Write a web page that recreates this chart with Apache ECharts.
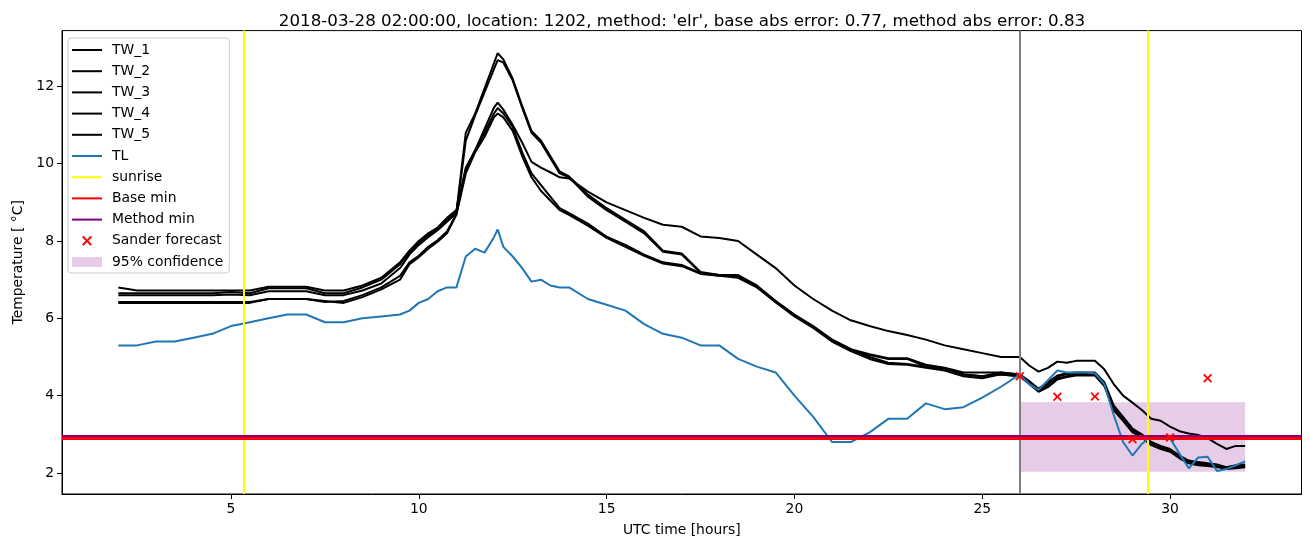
<!DOCTYPE html>
<html>
<head>
<meta charset="utf-8">
<script src="https://cdn.jsdelivr.net/npm/echarts@6/dist/echarts.min.js"></script>
<style>
html,body{margin:0;padding:0;background:#fff;}
#chart{width:1310px;height:547px;}
</style>
</head>
<body>
<div id="chart"></div>
<script>
// ---- data ----
const hours = [2,2.5,3,3.5,4,4.5,5,5.5,6,6.5,7,7.5,8,8.5,9,9.5,
  9.75,10,10.25,10.5,10.75,11,11.25,11.5,11.75,12,12.1,12.25,12.5,12.75,13,13.25,13.5,13.75,14,
  14.5,15,15.5,16,16.5,17,17.5,18,18.5,19,19.5,20,20.5,21,21.5,22,22.5,23,23.5,24,24.5,25,25.5,26,
  26.25,26.5,26.75,27,27.25,27.5,27.75,28,28.25,28.5,28.75,29,29.25,29.5,29.75,30,30.25,30.5,30.75,31,31.25,31.5,31.75,32];

const TW_1 = [6.8,6.72,6.72,6.72,6.72,6.72,6.72,6.72,6.82,6.82,6.82,6.72,6.72,6.85,7.05,7.45,
  7.75,8.0,8.2,8.35,8.6,8.8,9.9,10.35,10.9,11.45,11.58,11.4,11.0,10.55,10.05,9.9,9.78,9.65,9.62,
  9.28,9.0,8.8,8.6,8.42,8.37,8.12,8.08,8.0,7.65,7.3,6.85,6.5,6.2,5.95,5.8,5.67,5.57,5.45,5.3,5.2,5.1,5.0,5.0,
  4.78,4.62,4.72,4.88,4.85,4.9,4.9,4.9,4.68,4.3,4.0,3.82,3.63,3.4,3.35,3.2,3.08,3.02,2.98,2.9,2.75,2.62,2.7,2.7];

const TW_2 = [6.65,6.65,6.65,6.65,6.65,6.65,6.68,6.65,6.78,6.78,6.78,6.65,6.65,6.8,7.0,7.4,
  7.7,7.95,8.15,8.32,8.55,8.75,10.8,11.3,11.95,12.6,12.86,12.7,12.2,11.5,10.85,10.6,10.2,9.8,9.67,
  9.2,8.85,8.55,8.25,7.75,7.68,7.2,7.12,7.12,6.85,6.45,6.1,5.8,5.45,5.2,5.07,4.97,4.97,4.8,4.72,4.6,4.6,4.6,4.55,
  4.38,4.18,4.35,4.52,4.58,4.6,4.6,4.6,4.35,3.75,3.45,3.15,3.0,2.8,2.7,2.62,2.45,2.32,2.28,2.25,2.22,2.15,2.2,2.22];

const TW_3 = [6.42,6.42,6.42,6.42,6.42,6.42,6.42,6.42,6.5,6.5,6.5,6.42,6.45,6.6,6.8,7.1,
  7.45,7.62,7.85,8.02,8.25,8.7,9.85,10.35,10.8,11.3,11.44,11.3,10.95,10.3,9.75,9.45,9.15,8.85,8.72,
  8.45,8.11,7.9,7.65,7.45,7.38,7.17,7.12,7.08,6.82,6.45,6.08,5.78,5.45,5.2,5.0,4.85,4.82,4.75,4.7,4.55,4.5,4.6,4.55,
  4.32,4.12,4.25,4.45,4.5,4.55,4.55,4.55,4.28,3.65,3.38,3.08,2.95,2.75,2.65,2.58,2.4,2.28,2.22,2.2,2.18,2.1,2.15,2.18];

const TW_4 = [6.6,6.6,6.6,6.6,6.6,6.6,6.62,6.6,6.7,6.7,6.7,6.6,6.6,6.72,6.9,7.3,
  7.65,7.9,8.1,8.28,8.5,8.72,10.6,11.25,11.85,12.45,12.68,12.62,12.15,11.45,10.8,10.55,10.15,9.75,9.65,
  9.15,8.8,8.5,8.2,7.72,7.65,7.18,7.1,7.1,6.82,6.42,6.08,5.78,5.42,5.18,5.05,4.95,4.95,4.75,4.7,4.55,4.5,4.55,4.5,
  4.35,4.15,4.3,4.5,4.55,4.58,4.58,4.58,4.3,3.7,3.42,3.12,2.98,2.78,2.68,2.6,2.42,2.3,2.25,2.22,2.2,2.12,2.18,2.2];

const TW_5 = [6.4,6.4,6.4,6.4,6.4,6.4,6.4,6.4,6.5,6.5,6.5,6.45,6.4,6.55,6.75,7.0,
  7.4,7.58,7.8,7.98,8.2,8.68,9.75,10.3,10.7,11.2,11.3,11.2,10.85,10.2,9.65,9.3,9.05,8.8,8.68,
  8.4,8.08,7.85,7.62,7.42,7.35,7.15,7.1,7.05,6.8,6.42,6.05,5.75,5.4,5.15,4.95,4.82,4.8,4.72,4.65,4.5,4.45,4.55,4.5,
  4.3,4.1,4.22,4.42,4.48,4.52,4.52,4.52,4.25,3.62,3.35,3.05,2.92,2.72,2.62,2.55,2.38,2.25,2.2,2.18,2.15,2.1,2.12,2.15];

const TL = [5.3,5.3,5.4,5.4,5.5,5.6,5.8,5.9,6.0,6.1,6.1,5.9,5.9,6.0,6.05,6.1,
  6.2,6.4,6.5,6.7,6.8,6.8,7.6,7.8,7.7,8.1,8.3,7.85,7.6,7.3,6.95,7.0,6.85,6.8,6.8,
  6.5,6.35,6.2,5.85,5.6,5.5,5.3,5.3,4.95,4.75,4.6,4.0,3.45,2.8,2.8,3.05,3.4,3.4,3.8,3.65,3.7,3.95,4.23,4.55,
  4.3,4.15,4.4,4.65,4.6,4.6,4.6,4.58,4.3,3.5,2.8,2.45,2.75,2.95,2.9,2.9,2.5,2.12,2.4,2.42,2.05,2.1,2.2,2.3];

const sunrise = [5.35, 29.4];
const forecastTime = [26];
const baseMin = 2.9;
const methodMin = 2.935;
const sanderX = [26, 27, 28, 29, 30, 31];
const sanderY = [4.5, 3.97, 3.98, 2.87, 2.92, 4.45];
const confX = [26, 32];
const confY = [2.03, 3.83];

const xTicks = [5, 10, 15, 20, 25, 30];
const yTicks = [2, 4, 6, 8, 10, 12];

const titleText = "2018-03-28 02:00:00, location: 1202, method: 'elr', base abs error: 0.77, method abs error: 0.83";

// ---- chart ----
const FONT = "DejaVu Sans";
const chart = echarts.init(document.getElementById('chart'), null, {renderer: 'canvas'});
const pair = arr => hours.map((h, i) => [h, arr[i]]);
const twSeries = [['TW_1', TW_1], ['TW_2', TW_2], ['TW_3', TW_3], ['TW_4', TW_4], ['TW_5', TW_5]].map(([n, d]) => ({
  name: n, type: 'line', data: pair(d), symbol: 'none', showSymbol: false,
  lineStyle: {color: '#000', width: 2}, itemStyle: {color: '#000'}, z: 2
}));

const xPath = 'path://M0,1.4 L1.4,0 L5,3.6 L8.6,0 L10,1.4 L6.4,5 L10,8.6 L8.6,10 L5,6.4 L1.4,10 L0,8.6 L3.6,5 Z';
const lineIcon = 'path://M0,0 L30,0 L30,2 L0,2 Z';

const option = {
  animation: false,
  textStyle: {fontFamily: FONT},
  title: {
    text: titleText, left: 677, top: 8, textAlign: 'center',
    textStyle: {fontFamily: FONT, fontSize: 16.7, fontWeight: 'normal', color: '#000'}
  },
  grid: {left: 62, right: 8.5, top: 30.6, bottom: 53, show: true, borderColor: '#000', borderWidth: 1, backgroundColor: 'transparent'},
  xAxis: {
    type: 'value', min: 0.5, max: 33.5,
    name: 'UTC time [hours]', nameLocation: 'middle', nameGap: 29,
    nameTextStyle: {fontFamily: FONT, fontSize: 13.9, color: '#000'},
    axisLine: {show: true, onZero: false, lineStyle: {color: '#000', width: 1}},
    axisTick: {show: true, length: 5, lineStyle: {color: '#000'}, customValues: xTicks},
    axisLabel: {color: '#000', fontFamily: FONT, fontSize: 13.9, margin: 8, customValues: xTicks},
    splitLine: {show: false}
  },
  yAxis: {
    type: 'value', min: 1.455, max: 13.445,
    name: 'Temperature [ °C]', nameLocation: 'middle', nameGap: 37, nameRotate: 90,
    nameTextStyle: {fontFamily: FONT, fontSize: 13.9, color: '#000'},
    axisLine: {show: true, onZero: false, lineStyle: {color: '#000', width: 1}},
    axisTick: {show: true, length: 5, lineStyle: {color: '#000'}, customValues: yTicks},
    axisLabel: {color: '#000', fontFamily: FONT, fontSize: 13.9, margin: 8, customValues: yTicks},
    splitLine: {show: false}
  },
  legend: {
    orient: 'vertical', left: 68, top: 38,
    itemWidth: 30, itemHeight: 10, itemGap: 7.2,
    padding: [5, 6, 4, 4],
    symbolKeepAspect: true,
    backgroundColor: 'rgba(255,255,255,0.8)', borderColor: '#cccccc', borderWidth: 1, borderRadius: 3,
    textStyle: {fontFamily: FONT, fontSize: 13.9, color: '#000', padding: [0, 0, 0, 5]},
    selectedMode: false,
    data: [
      {name: 'TW_1', icon: lineIcon}, {name: 'TW_2', icon: lineIcon}, {name: 'TW_3', icon: lineIcon},
      {name: 'TW_4', icon: lineIcon}, {name: 'TW_5', icon: lineIcon},
      {name: 'TL', icon: lineIcon}, {name: 'sunrise', icon: lineIcon}, {name: 'Base min', icon: lineIcon},
      {name: 'Method min', icon: lineIcon},
      {name: 'Sander forecast', icon: xPath},
      {name: '95% confidence', icon: 'rect', itemStyle: {color: 'rgba(128,0,128,0.2)'}}
    ]
  },
  series: [
    {
      name: '95% confidence', type: 'line', data: [], symbol: 'none',
      itemStyle: {color: 'rgba(128,0,128,0.2)'}, lineStyle: {color: 'rgba(128,0,128,0.2)'},
      markArea: {silent: true, itemStyle: {color: 'rgba(128,0,128,0.2)'},
        data: [[{xAxis: confX[0], yAxis: confY[0]}, {xAxis: confX[1], yAxis: confY[1]}]]},
      z: 1
    },
    ...twSeries,
    {
      name: 'TL', type: 'line', data: pair(TL), symbol: 'none', showSymbol: false,
      lineStyle: {color: '#1f77b4', width: 2}, itemStyle: {color: '#1f77b4'}, z: 3
    },
    {
      name: 'forecast', type: 'line', data: [], symbol: 'none',
      markLine: {silent: true, symbol: ['none', 'none'], label: {show: false},
        lineStyle: {color: '#808080', width: 2, type: 'solid'},
        data: forecastTime.map(v => ({xAxis: v}))},
      z: 3
    },
    {
      name: 'sunrise', type: 'line', data: [], symbol: 'none',
      itemStyle: {color: '#ffff00'}, lineStyle: {color: '#ffff00', width: 2},
      markLine: {silent: true, symbol: ['none', 'none'], label: {show: false},
        lineStyle: {color: '#ffff00', width: 2, type: 'solid'},
        data: sunrise.map(v => ({xAxis: v}))},
      z: 4
    },
    {
      name: 'Method min', type: 'line', data: [], symbol: 'none',
      itemStyle: {color: '#800080'}, lineStyle: {color: '#800080', width: 2},
      markLine: {silent: true, symbol: ['none', 'none'], label: {show: false},
        lineStyle: {color: '#800080', width: 3, type: 'solid'},
        data: [{yAxis: methodMin}]},
      z: 4
    },
    {
      name: 'Base min', type: 'line', data: [], symbol: 'none',
      itemStyle: {color: '#ff0000'}, lineStyle: {color: '#ff0000', width: 2},
      markLine: {silent: true, symbol: ['none', 'none'], label: {show: false},
        lineStyle: {color: '#ff0000', width: 3, type: 'solid'},
        data: [{yAxis: baseMin}]},
      z: 5
    },
    {
      name: 'Sander forecast', type: 'scatter', symbol: xPath, symbolSize: 9,
      data: sanderX.map((x, i) => [x, sanderY[i]]),
      itemStyle: {color: '#ff0000', opacity: 1}, z: 6
    }
  ]
};
chart.setOption(option);
</script>
</body>
</html>
